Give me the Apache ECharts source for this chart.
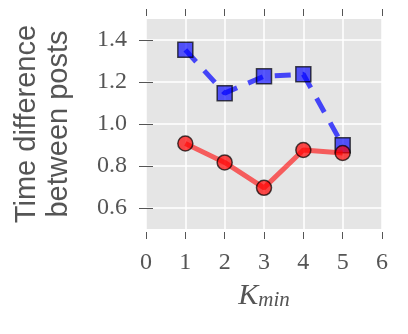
<!DOCTYPE html>
<html>
<head>
<meta charset="utf-8">
<script src="https://cdn.jsdelivr.net/npm/echarts@6/dist/echarts.min.js"></script>
<style>
  html, body { margin: 0; padding: 0; background: #fff; }
  #chart { width: 408px; height: 334px; }
</style>
</head>
<body>
<div id="chart"></div>
<script>
  // values
  var kMin = [1, 2, 3, 4, 5]
  var redValues = [0.907, 0.817, 0.696, 0.876, 0.862]
  var blueValues = [1.353, 1.147, 1.227, 1.237, 0.899]
  var xTicks = [0, 1, 2, 3, 4, 5, 6]
  var yTicks = [0.6, 0.8, 1.0, 1.2, 1.4]

  var serif = '"Liberation Serif", "DejaVu Serif", serif'
  var sans = '"Liberation Sans", Arial, sans-serif'
  var textColor = '#555'

  function pairs(xs, ys) {
    return xs.map(function (x, i) { return [x, ys[i]] })
  }

  var tickStyle = { show: true, length: 7, lineStyle: { color: textColor, width: 1 } }

  var chart = echarts.init(document.getElementById('chart'))
  chart.setOption({
    animation: false,
    backgroundColor: '#fff',
    grid: {
      left: 146, right: 26, top: 19, bottom: 105,
      show: true, backgroundColor: '#e5e5e5', borderWidth: 0
    },
    xAxis: [
      {
        type: 'value', min: 0, max: 6, position: 'bottom', offset: 3,
        axisLine: { show: false },
        axisTick: Object.assign({ customValues: xTicks }, tickStyle),
        axisLabel: {
          customValues: xTicks, margin: 19,
          fontFamily: serif, fontSize: 24, color: textColor
        },
        splitLine: { show: true, lineStyle: { color: '#fff', width: 1.5 } },
        name: '{k|K}{s|min}',
        nameLocation: 'middle',
        nameGap: 49,
        nameTextStyle: {
          rich: {
            k: { fontFamily: serif, fontStyle: 'italic', fontSize: 30, color: textColor, verticalAlign: 'bottom', lineHeight: 30 },
            s: { fontFamily: serif, fontStyle: 'italic', fontSize: 21, color: textColor, verticalAlign: 'bottom', lineHeight: 14 }
          }
        }
      },
      {
        type: 'value', min: 0, max: 6, position: 'top', offset: 3,
        axisLine: { show: false },
        axisTick: Object.assign({ customValues: xTicks }, tickStyle),
        axisLabel: { show: false },
        splitLine: { show: false }
      }
    ],
    yAxis: [
      {
        type: 'value', min: 0.5, max: 1.5, position: 'left', offset: 3,
        axisLine: { show: false },
        axisTick: Object.assign({ customValues: yTicks }, tickStyle),
        axisLabel: {
          customValues: yTicks, margin: 16,
          fontFamily: serif, fontSize: 24, color: textColor,
          formatter: function (v) { return v.toFixed(1) }
        },
        splitLine: { show: true, lineStyle: { color: '#fff', width: 1.5 } },
        name: 'Time difference\nbetween posts',
        nameLocation: 'middle',
        nameRotate: 90,
        nameGap: 68,
        nameTextStyle: { fontFamily: sans, fontSize: 29, lineHeight: 32, color: textColor }
      },
      {
        type: 'value', min: 0.5, max: 1.5, position: 'right', offset: 3,
        axisLine: { show: false },
        axisTick: Object.assign({ customValues: yTicks }, tickStyle),
        axisLabel: { show: false },
        splitLine: { show: false }
      }
    ],
    series: [
      {
        type: 'line',
        data: pairs(kMin, blueValues),
        symbol: 'rect',
        symbolSize: 15,
        lineStyle: { color: 'rgba(0,0,255,0.7)', width: 5, type: [16, 12] },
        itemStyle: { color: 'rgba(0,0,255,0.65)', borderColor: 'rgba(0,0,0,0.7)', borderWidth: 1.5 },
        z: 2
      },
      {
        type: 'line',
        data: pairs(kMin, redValues),
        symbol: 'circle',
        symbolSize: 15,
        lineStyle: { color: 'rgba(255,0,0,0.6)', width: 5 },
        itemStyle: { color: 'rgba(255,0,0,0.7)', borderColor: 'rgba(0,0,0,0.7)', borderWidth: 1.5 },
        z: 3
      }
    ]
  })
</script>
</body>
</html>
